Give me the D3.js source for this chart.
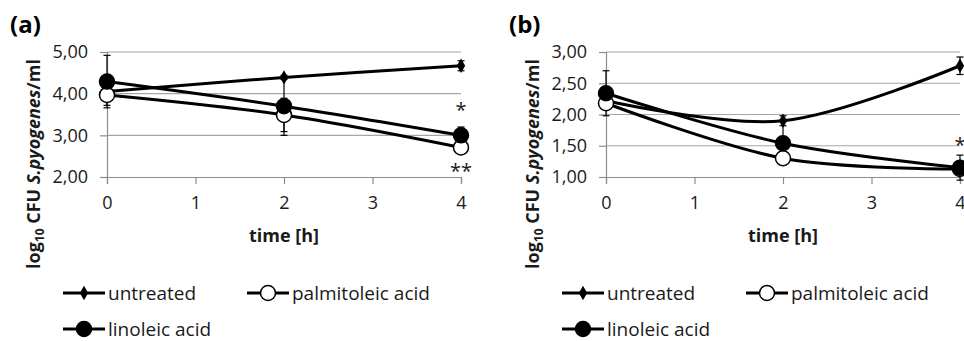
<!DOCTYPE html>
<html>
<head>
<meta charset="utf-8">
<script src="https://cdn.jsdelivr.net/npm/d3@7"></script>
<style>
  body { margin: 0; background: #fff; }
  svg { display: block; font-family: 'Open Sans', sans-serif; }
</style>
</head>
<body>
<svg id="chart" width="964" height="341"></svg>
<script>
// time points (h) and axis ticks
const hours = [0, 2, 4];
const xTicks = [0, 1, 2, 3, 4];
const yTicksA = [2, 3, 4, 5];
const yTicksB = [1, 1.5, 2, 2.5, 3];

// panel (a)
const untreatedA = [4.05, 4.39, 4.67];
const untreatedErrA = [0.05, 0.05, 0.12];
const palmitoleicA = [3.97, 3.49, 2.71];
const palmitoleicErrA = [0.25, 0.40, 0.05];
const linoleicA = [4.29, 3.70, 3.00];
const linoleicErrA = [0.63, 0.70, 0.20];
const starsA = [{ t: 4, v: 3.68, text: '*' }, { t: 4, v: 2.21, text: '**' }];

// panel (b)
const untreatedB = [2.22, 1.90, 2.78];
const untreatedErrB = [0.05, 0.08, 0.14];
const palmitoleicB = [2.18, 1.30, 1.13];
const palmitoleicErrB = [0.05, 0.05, 0.05];
const linoleicB = [2.34, 1.54, 1.15];
const linoleicErrB = [0.36, 0.35, 0.20];
const starsB = [{ t: 4, v: 1.56, text: '*' }];

const seriesNames = ['untreated', 'palmitoleic acid', 'linoleic acid'];

const comma = d3.formatLocale({ decimal: ',', thousands: '.', grouping: [3], currency: ['', ''] }).format('.2f');

const svg = d3.select('#chart');

function drawMarker(g, kind, x, y) {
  if (kind === 'untreated') {
    g.append('path')
      .attr('d', d3.symbol(d3.symbolDiamond, 60)())
      .attr('transform', `translate(${x},${y})`)
      .attr('fill', '#000');
  } else {
    g.append('circle')
      .attr('cx', x).attr('cy', y).attr('r', 7.5)
      .attr('fill', kind === 'linoleic acid' ? '#000' : '#fff')
      .attr('stroke', '#000').attr('stroke-width', 1.5);
  }
}

function panel(dx, label, yDomain, yTicks, series, stars) {
  const g = svg.append('g');
  const x = d3.scaleLinear().domain([0, 4]).range([107 + dx, 461 + dx]);
  const y = d3.scaleLinear().domain(yDomain).range([177, 52]);

  // gridlines
  g.append('g').selectAll('line').data(yTicks.slice(1)).join('line')
    .attr('x1', x(0)).attr('x2', x(4))
    .attr('y1', d => y(d)).attr('y2', d => y(d))
    .attr('stroke', '#a6a6a6').attr('stroke-width', 1.2);

  // axes
  const yAxis = g.append('g').attr('transform', `translate(${x(0)},0)`)
    .call(d3.axisLeft(y).tickValues(yTicks).tickFormat(comma).tickSize(7).tickPadding(12));
  const xAxis = g.append('g').attr('transform', `translate(0,${y(yDomain[0])})`)
    .call(d3.axisBottom(x).tickValues(xTicks).tickFormat(d3.format('d')).tickSize(7).tickPadding(12));
  [yAxis, xAxis].forEach(a => {
    a.select('.domain').attr('stroke', '#8c8c8c').attr('stroke-width', 1.2);
    a.selectAll('.tick line').attr('stroke', '#8c8c8c').attr('stroke-width', 1.2);
    a.selectAll('text').attr('font-size', 18).attr('fill', '#1a1a1a')
      .attr('font-family', "'Open Sans', sans-serif");
  });

  // error bars
  const eb = g.append('g').attr('stroke', '#000').attr('stroke-width', 1.2);
  series.forEach(s => {
    s.values.forEach((v, i) => {
      const cx = x(hours[i]);
      const lo = y(v - s.err[i]), hi = y(v + s.err[i]);
      eb.append('line').attr('x1', cx).attr('x2', cx).attr('y1', lo).attr('y2', hi);
      [lo, hi].forEach(yy => eb.append('line')
        .attr('x1', cx - 3.5).attr('x2', cx + 3.5).attr('y1', yy).attr('y2', yy));
    });
  });

  // smoothed lines
  const line = d3.line().x((d, i) => x(hours[i])).y(d => y(d)).curve(d3.curveCatmullRom.alpha(0));
  series.forEach(s => {
    g.append('path').datum(s.values).attr('d', line)
      .attr('fill', 'none').attr('stroke', '#000').attr('stroke-width', 3);
  });
  series.forEach(s => {
    s.values.forEach((v, i) => drawMarker(g, s.name, x(hours[i]), y(v)));
  });

  // significance stars
  g.selectAll('text.star').data(stars).join('text').attr('class', 'star')
    .attr('x', d => x(d.t)).attr('y', d => y(d.v) + 10)
    .attr('text-anchor', 'middle').attr('font-size', 20).attr('fill', '#1a1a1a')
    .text(d => d.text);

  // panel label
  g.append('text').attr('x', 10 + dx).attr('y', 33)
    .attr('font-size', 24).attr('font-weight', 'bold').text(label);

  // axis titles
  g.append('text').attr('x', x(2)).attr('y', 242).attr('text-anchor', 'middle')
    .attr('font-size', 18).attr('font-weight', 'bold').attr('fill', '#1a1a1a').text('time [h]');

  const yt = g.append('text').attr('transform', `translate(${40 + dx},164) rotate(-90)`)
    .attr('text-anchor', 'middle').attr('font-size', 18).attr('font-weight', 'bold').attr('fill', '#1a1a1a');
  yt.append('tspan').text('log');
  yt.append('tspan').attr('font-size', 12).attr('dy', 4).text('10');
  yt.append('tspan').attr('dy', -4).text(' CFU ');
  yt.append('tspan').attr('font-style', 'italic').text('S.pyogenes');
  yt.append('tspan').text('/ml');

  // legend
  const legendPos = [[63, 293], [247, 293], [63, 329]];
  seriesNames.forEach((name, i) => {
    const [lx, ly] = legendPos[i];
    g.append('line').attr('x1', lx + dx).attr('x2', lx + 42 + dx).attr('y1', ly).attr('y2', ly)
      .attr('stroke', '#000').attr('stroke-width', 3);
    drawMarker(g, name, lx + 21 + dx, ly);
    g.append('text').attr('x', lx + 45 + dx).attr('y', ly + 7)
      .attr('font-size', 19).attr('fill', '#1a1a1a').text(name);
  });
}

panel(0, '(a)', [2, 5], yTicksA, [
  { name: 'untreated', values: untreatedA, err: untreatedErrA },
  { name: 'palmitoleic acid', values: palmitoleicA, err: palmitoleicErrA },
  { name: 'linoleic acid', values: linoleicA, err: linoleicErrA },
], starsA);

panel(499, '(b)', [1, 3], yTicksB, [
  { name: 'untreated', values: untreatedB, err: untreatedErrB },
  { name: 'palmitoleic acid', values: palmitoleicB, err: palmitoleicErrB },
  { name: 'linoleic acid', values: linoleicB, err: linoleicErrB },
], starsB);
</script>
</body>
</html>
